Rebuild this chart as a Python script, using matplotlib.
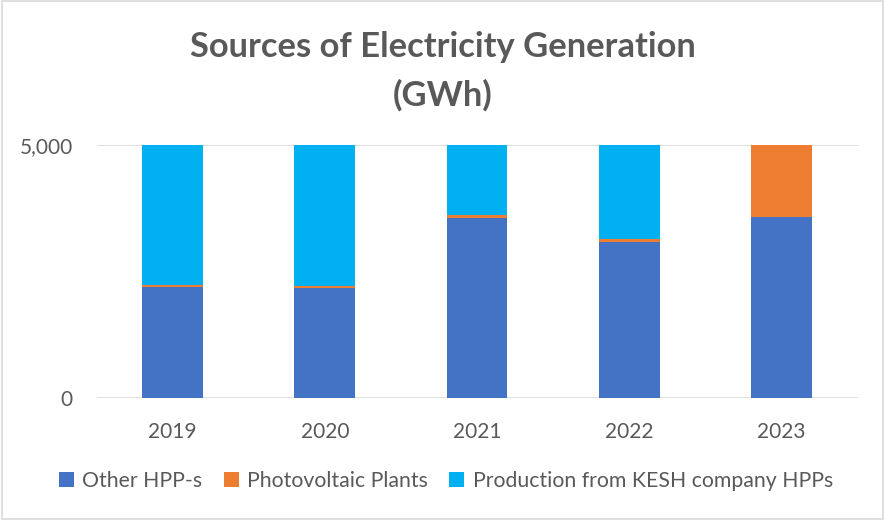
import matplotlib
matplotlib.use("Agg")
import matplotlib.pyplot as plt
from matplotlib.patches import Rectangle
from matplotlib.ticker import FuncFormatter
import numpy as np

years = ["2019", "2020", "2021", "2022", "2023"]
other_hpp = [2198, 2179, 3567, 3091, 3575]
photovoltaic = [33, 40, 53, 53, 4000]
kesh_hpp = [3000, 3100, 5300, 3900, 0]

series_names = ["Other HPP-s", "Photovoltaic Plants", "Production from KESH company HPPs"]
colors = ["#4472C4", "#ED7D31", "#00B0F0"]
text_color = "#595959"
font = ["Lato", "DejaVu Sans"]

fig = plt.figure(figsize=(8.85, 5.20), dpi=100)
ax = fig.add_axes([96.5 / 885, 1 - 397.5 / 520, 761 / 885, 252.2 / 520])

x = np.arange(len(years))
bottom = np.zeros(len(years))
handles = []
for vals, name, c in zip([other_hpp, photovoltaic, kesh_hpp], series_names, colors):
    h = ax.bar(x, vals, width=0.40, bottom=bottom, color=c, label=name, zorder=3)
    handles.append(h)
    bottom += np.array(vals)

ax.set_ylim(0, 5000)
ax.set_xlim(-0.5, len(years) - 0.5)
ax.set_yticks([0, 5000])
ax.yaxis.set_major_formatter(FuncFormatter(lambda v, p: f"{int(v):,}"))
ax.set_xticks(x)
ax.set_xticklabels(years)
ax.grid(axis="y", color="#D9D9D9", linewidth=1.2, zorder=0)
ax.set_axisbelow(True)
for s in ax.spines.values():
    s.set_visible(False)
ax.tick_params(axis="both", length=0, colors=text_color, labelsize=15)
ax.tick_params(axis="y", pad=17)
ax.tick_params(axis="x", pad=18)
for lab in ax.get_xticklabels() + ax.get_yticklabels():
    lab.set_family(font)
    lab.set_color(text_color)

fig.text(443 / 885, 1 - 47 / 520, "Sources of Electricity Generation", ha="center", va="center",
         fontsize=24.8, fontweight="bold", color=text_color, family=font)
fig.text(443 / 885, 1 - 95 / 520, "(GWh)", ha="center", va="center",
         fontsize=24.8, fontweight="bold", color=text_color, family=font)

leg = fig.legend(handles=handles, labels=series_names, loc="center", bbox_to_anchor=(446 / 885, 1 - 481 / 520),
                 ncol=3, frameon=False, handlelength=0.7, handleheight=0.7,
                 handletextpad=0.4, columnspacing=1.0, prop={"family": font, "size": 15.3})
for t in leg.get_texts():
    t.set_color(text_color)

fig.patches.append(Rectangle((0.002, 0.002), 0.996, 0.996, transform=fig.transFigure,
                             fill=False, edgecolor="#D9D9D9", linewidth=1.2))

fig.savefig("out.png", dpi=100, facecolor="white")
